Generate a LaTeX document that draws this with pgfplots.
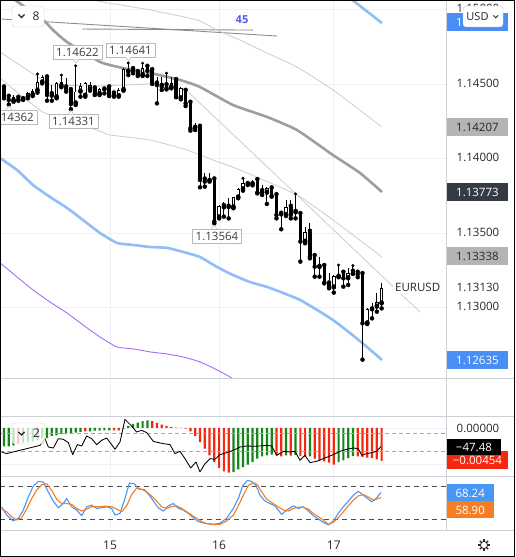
\documentclass[border=0pt]{standalone}
\usepackage{pgfplots}
\pgfplotsset{compat=1.18}
\usepackage{pgfplotstable}
\usepackage{fontspec}
\setmainfont{Open Sans}
\definecolor{gridc}{RGB}{238,240,243}
\definecolor{sepc}{RGB}{205,208,215}
\definecolor{maC}{RGB}{158,158,158}
\definecolor{bandC}{RGB}{144,190,248}
\definecolor{thinC}{RGB}{205,205,208}
\definecolor{purpC}{RGB}{168,108,250}
\definecolor{trendC}{RGB}{140,140,148}
\definecolor{boxBlue}{RGB}{72,142,245}
\definecolor{boxGray}{RGB}{180,180,180}
\definecolor{boxDark}{RGB}{54,58,69}
\definecolor{macdG}{RGB}{20,135,25}
\definecolor{macdR}{RGB}{245,40,15}
\definecolor{stochB}{RGB}{72,150,245}
\definecolor{stochO}{RGB}{245,125,35}
\definecolor{labC}{RGB}{40,40,40}
\definecolor{blueFF}{RGB}{80,90,235}

\pgfplotstableread{
i o h l c
0 1.14478 1.14493 1.14404 1.14411
1 1.14415 1.14419 1.14362 1.14393
2 1.14388 1.14424 1.14381 1.14415
3 1.14408 1.14415 1.14388 1.14397
4 1.14399 1.14419 1.14393 1.14415
5 1.14411 1.14449 1.14404 1.14442
6 1.14426 1.14464 1.14419 1.14455
7 1.14455 1.14567 1.14442 1.14516
8 1.14511 1.14558 1.14504 1.14549
9 1.14545 1.14554 1.14388 1.14426
10 1.14433 1.14493 1.14388 1.14422
11 1.14411 1.14516 1.14404 1.14504
12 1.14487 1.14560 1.14478 1.14516
13 1.14478 1.14538 1.14449 1.14460
14 1.14460 1.14471 1.14331 1.14366
15 1.14370 1.14622 1.14359 1.14449
16 1.14449 1.14504 1.14415 1.14487
17 1.14422 1.14516 1.14415 1.14504
18 1.14464 1.14516 1.14455 1.14493
19 1.14471 1.14478 1.14426 1.14433
20 1.14433 1.14471 1.14426 1.14464
21 1.14464 1.14482 1.14437 1.14475
22 1.14478 1.14482 1.14419 1.14426
23 1.14437 1.14449 1.14415 1.14419
24 1.14419 1.14471 1.14415 1.14460
25 1.14460 1.14605 1.14455 1.14601
26 1.14583 1.14641 1.14560 1.14598
27 1.14601 1.14616 1.14572 1.14576
28 1.14581 1.14589 1.14554 1.14560
29 1.14560 1.14639 1.14554 1.14605
30 1.14616 1.14628 1.14554 1.14589
31 1.14594 1.14605 1.14500 1.14504
32 1.14504 1.14549 1.14370 1.14493
33 1.14489 1.14549 1.14460 1.14482
34 1.14493 1.14572 1.14464 1.14471
35 1.14478 1.14549 1.14471 1.14509
36 1.14527 1.14538 1.14411 1.14415
37 1.14404 1.14482 1.14397 1.14471
38 1.14455 1.14464 1.14352 1.14370
39 1.14375 1.14381 1.14187 1.14202
40 1.14207 1.14241 1.14191 1.14218
41 1.14214 1.14218 1.13807 1.13856
42 1.13860 1.13900 1.13811 1.13845
43 1.13851 1.13905 1.13845 1.13860
44 1.13860 1.13867 1.13564 1.13576
45 1.13605 1.13688 1.13598 1.13681
46 1.13681 1.13710 1.13610 1.13672
47 1.13677 1.13733 1.13598 1.13674
48 1.13672 1.13744 1.13666 1.13739
49 1.13739 1.13800 1.13733 1.13793
50 1.13793 1.13867 1.13784 1.13838
51 1.13829 1.13845 1.13822 1.13838
52 1.13829 1.13856 1.13820 1.13845
53 1.13856 1.13860 1.13766 1.13771
54 1.13782 1.13822 1.13755 1.13773
55 1.13771 1.13807 1.13695 1.13800
56 1.13800 1.13804 1.13744 1.13748
57 1.13755 1.13760 1.13598 1.13621
58 1.13630 1.13640 1.13525 1.13625
59 1.13621 1.13722 1.13614 1.13677
60 1.13677 1.13722 1.13598 1.13621
61 1.13643 1.13762 1.13598 1.13639
62 1.13628 1.13632 1.13308 1.13442
63 1.13442 1.13543 1.13431 1.13509
64 1.13509 1.13569 1.13330 1.13341
65 1.13346 1.13364 1.13207 1.13274
66 1.13274 1.13341 1.13207 1.13272
67 1.13279 1.13285 1.13162 1.13167
68 1.13162 1.13229 1.13129 1.13140
69 1.13135 1.13218 1.13100 1.13211
70 1.13207 1.13285 1.13203 1.13225
71 1.13234 1.13241 1.13140 1.13196
72 1.13196 1.13263 1.13151 1.13234
73 1.13241 1.13281 1.13225 1.13229
74 1.13234 1.13247 1.13203 1.13223
75 1.13225 1.13234 1.12650 1.12894
76 1.12894 1.12994 1.12889 1.12988
77 1.12988 1.13028 1.12927 1.13006
78 1.13006 1.13095 1.12972 1.13039
79 1.13028 1.13162 1.12994 1.13130
}\candles

\pgfplotstableread{
i p
-0.84 1.15138
2.30 1.15064
8.16 1.14930
10.25 1.14862
13.18 1.14782
20.08 1.14648
24.90 1.14607
30.54 1.14574
36.82 1.14527
40.99 1.14480
47.91 1.14359
55.02 1.14279
61.30 1.14191
68.83 1.14023
74.48 1.13903
79.08 1.13775
}\maline

\pgfplotstableread{
i p
-0.84 1.14003
2.72 1.13923
6.07 1.13822
9.62 1.13742
13.18 1.13668
16.53 1.13587
20.08 1.13500
23.64 1.13433
27.00 1.13420
30.54 1.13406
34.10 1.13400
37.45 1.13373
41.00 1.13339
44.56 1.13272
47.91 1.13218
51.46 1.13171
55.02 1.13138
58.37 1.13098
61.92 1.13051
65.48 1.12984
68.83 1.12916
72.38 1.12829
75.94 1.12735
79.08 1.12648
}\lowband

\pgfplotstableread{
i p
-0.84 1.13300
2.72 1.13205
6.07 1.13118
9.62 1.13037
13.18 1.12963
16.53 1.12883
20.08 1.12802
23.64 1.12735
27.00 1.12722
30.54 1.12702
34.10 1.12688
37.45 1.12668
41.00 1.12635
44.56 1.12581
47.27 1.12534
51.46 1.12447
}\purple

\pgfplotstableread{
i v
-0.49 -107
0.56 -125
1.95 -107
3.35 -89
4.74 -71
6.14 -53
7.53 -35
8.58 38
9.27 -53
10.32 -64
11.37 38
12.41 31
13.46 -5
14.37 -136
15.35 -27
16.25 -42
17.29 67
18.34 38
19.39 -27
20.43 20
21.48 45
22.52 -27
23.22 -78
24.27 2
25.31 249
26.71 176
27.75 111
28.80 129
29.85 104
31.24 9
32.29 -5
33.33 -16
34.73 -27
35.77 -125
36.82 -100
37.87 -180
39.05 -282
40.17 -216
41.00 -325
42.05 -235
43.10 -180
44.14 -187
45.19 -136
46.58 -115
47.98 -89
49.37 -53
50.77 -42
52.16 -45
53.56 -42
54.95 -35
56.00 -42
57.04 -144
58.44 -100
59.83 -107
60.88 -100
61.92 -198
62.97 -144
64.02 -224
65.41 -209
67.15 -173
68.90 -136
70.29 -100
71.69 -78
73.08 -64
74.13 -71
74.83 -144
75.87 -125
76.92 -115
77.96 -100
78.87 -47.48
}\cci

\pgfplotstableread{
i s
-0.49 42.2
0.56 27.2
1.95 16.4
3.00 21.2
4.04 36.2
5.09 60.2
6.14 80.0
7.18 88.4
8.23 87.2
9.27 69.2
10.32 52.4
11.37 40.4
12.41 48.2
13.11 57.2
14.16 42.2
15.20 36.2
16.25 26.0
17.29 42.2
18.34 45.2
19.39 39.2
20.43 40.4
21.48 42.2
22.52 39.2
23.22 27.2
24.27 30.2
25.31 57.2
26.22 85.4
27.20 84.2
28.31 74.0
29.29 74.0
30.40 63.2
31.38 51.2
32.29 40.4
33.33 34.4
34.38 44.0
35.43 48.2
36.47 39.2
37.52 36.2
38.56 30.2
39.61 22.4
40.66 15.2
42.05 12.2
43.79 10.4
45.19 12.2
46.58 21.2
47.98 39.2
49.02 57.2
49.93 80.0
50.91 90.2
51.81 88.4
52.72 81.2
53.56 63.2
54.60 52.4
55.65 48.2
56.69 44.0
58.09 28.4
59.14 36.2
60.53 44.0
61.58 39.2
62.62 42.2
63.67 34.4
64.71 26.0
65.76 20.0
66.81 14.0
67.85 9.2
68.90 16.4
69.94 30.2
70.99 42.2
72.04 52.4
73.08 63.2
74.13 70.4
75.17 63.2
75.87 58.4
76.92 51.2
77.82 57.2
78.87 68.24
}\stochk

\pgfplotstableread{
i s
-0.49 38.0
0.56 33.2
1.60 24.2
2.65 18.2
3.70 22.4
4.74 38.0
5.79 57.2
6.83 72.2
7.88 82.4
8.93 84.2
9.97 72.2
11.02 56.0
12.06 48.2
13.11 48.2
14.16 46.4
15.20 39.2
16.25 34.4
17.29 38.0
18.34 42.2
19.39 42.2
20.43 42.8
21.48 43.4
22.52 42.2
23.57 38.0
24.62 33.2
25.66 44.0
26.71 64.4
27.75 76.4
28.80 74.0
29.85 69.2
30.89 62.0
31.94 52.4
32.98 42.2
34.03 39.2
35.08 42.8
36.12 44.0
37.17 39.2
38.21 33.2
39.26 27.2
40.31 21.2
41.35 15.2
42.40 11.6
43.79 9.8
45.19 10.4
46.58 16.4
47.98 27.2
49.02 44.0
50.07 63.2
51.12 81.2
52.16 86.0
53.00 82.4
53.91 69.2
54.95 56.0
56.00 50.0
57.04 44.0
58.44 36.2
59.48 34.4
60.53 39.2
61.58 41.6
62.62 41.0
63.67 38.0
64.71 30.2
65.76 24.2
66.81 18.2
67.85 10.4
68.90 14.0
69.94 22.4
70.99 33.2
72.04 44.0
73.08 54.2
74.13 62.0
75.17 64.4
76.22 60.2
77.27 54.2
78.31 57.2
78.87 58.90
}\stochd

\tikzset{
  vbox/.style={anchor=west, inner sep=0pt, minimum height=18pt, minimum width=61.5pt},
  hl/.style={draw=gray!55, fill=white, text=labC!90, inner sep=0pt, minimum width=49pt, minimum height=14pt},
}
\pgfplotsset{panel/.style={scale only axis, width=446pt, anchor=south west,
  xmin=-0.837, xmax=92.47, axis line style={draw=none}, major tick length=0pt,
  xtick={22.2,45,69}, xticklabels={,,}, grid=major,
  scaled y ticks=false, scaled x ticks=false,
  major grid style={color=gridc, line width=0.8pt}}}

\begin{document}
\begin{tikzpicture}[x=1pt,y=1pt,font=\fontsize{11.5}{13}\selectfont]
\useasboundingbox (0pt,0pt) rectangle (515pt,557pt);
\fill[white] (0pt,0pt) rectangle (515pt,557pt);

% ---------------- main price panel ----------------
\begin{axis}[panel, at={(0pt,179pt)}, height=378pt,
  ymin=1.125268, ymax=1.150638,
  ytick={1.13,1.135,1.14,1.145,1.15}, yticklabels={,,,,}]
  % drawn trend lines
  \addplot[trendC, line width=0.9pt] coordinates {(-0.42,1.14936) (57.11,1.14822)};
  \addplot[trendC, line width=0.9pt] coordinates {(16.32,1.14869) (52.09,1.14862)};
  % thin gray envelope lines
  \addplot[thinC, line width=0.8pt, smooth, tension=0.3] coordinates {
    (15.90,1.15084) (20.71,1.15050) (30.54,1.14997) (40.38,1.14930) (44.56,1.14862)
    (49.37,1.14795) (55.02,1.14708) (61.30,1.14614) (68.83,1.14460) (79.08,1.14211)};
  \addplot[thinC, line width=0.8pt, smooth, tension=0.3] coordinates {
    (-0.84,1.14540) (8.16,1.14312) (19.46,1.14191) (22.18,1.14158) (30.54,1.14124)
    (38.28,1.14057) (43.72,1.13990) (49.37,1.13923) (61.30,1.13755) (68.83,1.13587) (79.08,1.13339)};
  \addplot[thinC, line width=0.8pt] coordinates {
    (-0.84,1.14715) (9.62,1.14493) (20.08,1.14487) (30.54,1.14500) (37.87,1.14466)
    (61.30,1.13755) (70.29,1.13480) (79.08,1.13211) (87.03,1.12970)};
  % purple line
  \addplot[purpC, line width=0.9pt, smooth, tension=0.3] table[x=i,y=p] {\purple};
  % bands
  \addplot[bandC, line width=2.6pt, smooth, tension=0.3, line join=round] table[x=i,y=p] {\lowband};
  \addplot[bandC, line width=2.6pt, smooth, tension=0.3] coordinates {(68.0,1.15185) (73.43,1.15050) (79.08,1.14909)};
  % moving average
  \addplot[maC, line width=2.6pt, smooth, tension=0.3, line join=round] table[x=i,y=p] {\maline};
  % candles: wicks
  \addplot[only marks, mark=none,
    error bars/.cd, y dir=plus, y explicit, error mark=none,
    error bar style={color=black, line width=0.9pt}]
    table[x=i, y=l, y error expr={\thisrow{h}-\thisrow{l}}] {\candles};
  % candles: bodies
  \addplot[only marks, mark=none,
    error bars/.cd, y dir=plus, y explicit, error mark=none,
    error bar style={color=black, line width=3.4pt}]
    table[x=i, y expr={min(\thisrow{o},\thisrow{c})}, y error expr={max(abs(\thisrow{c}-\thisrow{o}),0.00007)}] {\candles};
  % candles: hollow insides of rising candles
  \addplot[only marks, mark=none,
    error bars/.cd, y dir=plus, y explicit, error mark=none,
    error bar style={color=white, line width=1.6pt}]
    table[x=i, y expr={\thisrow{o}+0.00006}, y error expr={max(\thisrow{c}-\thisrow{o}-0.00012,0)}] {\candles};
  % high / low dots
  \addplot[only marks, mark=*, mark size=1.3pt, black] coordinates {
    (1,1.14362) (7,1.14567) (12,1.14560) (14,1.14331) (15,1.14622) (26,1.14641)
    (29,1.14639) (32,1.14370) (34,1.14572) (44,1.13564) (47,1.13598) (50,1.13867)
    (53,1.13860) (58,1.13525) (61,1.13762) (62,1.13308) (69,1.13100) (70,1.13285)
    (73,1.13281) (75,1.12650)};
\end{axis}

% ---------------- MACD histogram panel ----------------
\begin{axis}[panel, at={(0pt,81pt)}, height=60pt,
  ymin=-0.006605, ymax=0.001651, ytick={-0.005,0}, yticklabels={,}]
  \addplot[ybar, bar width=2.2pt, bar shift=0pt, fill=macdG, draw=none] coordinates {
    (0,-0.00252) (1,-0.00252) (2,-0.00239) (4,-0.00202) (5,-0.00193) (6,-0.00183)
    (7,-0.00170) (8,-0.00147) (9,-0.00138) (10,-0.00110) (11,-0.00101) (12,-0.00083)
    (13,-0.00083) (14,-0.00073) (15,-0.00064) (16,-0.00055) (18,-0.00046) (19,-0.00037)
    (20,-0.00037) (21,-0.00032) (22,-0.00032) (25,-0.00009) (26,0.00028) (27,0.00055)
    (28,0.00073) (29,0.00096) (30,0.00106) (48,-0.00606) (49,-0.00569) (50,-0.00537)
    (51,-0.00505) (52,-0.00468) (53,-0.00422) (54,-0.00390) (55,-0.00376) (56,-0.00367)
    (59,-0.00376) (61,-0.00370) (64,-0.00390) (70,-0.00468) (71,-0.00445) (72,-0.00413)
    (73,-0.00385)};
  \addplot[ybar, bar width=2.2pt, bar shift=0pt, fill=macdR, draw=none] coordinates {
    (3,-0.00216) (17,-0.00046) (23,-0.00032) (24,-0.00034) (31,0.00096) (32,0.00069)
    (33,0.00046) (34,0.00028) (35,0.00014) (36,0.00005) (37,-0.00003) (38,-0.00009)
    (39,-0.00046) (40,-0.00110) (41,-0.00193) (42,-0.00284) (43,-0.00376) (44,-0.00468)
    (45,-0.00550) (46,-0.00596) (47,-0.00615) (57,-0.00376) (58,-0.00390) (60,-0.00380)
    (62,-0.00385) (63,-0.00399) (65,-0.00422) (66,-0.00445) (67,-0.00459) (68,-0.00477)
    (69,-0.00505) (74,-0.00390) (75,-0.00399) (76,-0.00408) (77,-0.00413) (78,-0.00431)
    (79,-0.00454)};
\end{axis}
% CCI line overlay
\begin{axis}[panel, at={(0pt,81pt)}, height=60pt, hide axis, ymin=-369.5, ymax=285.5]
  \addplot[gray!70, line width=0.8pt, dash pattern=on 4pt off 3pt] coordinates {(-0.837,100) (92.47,100)};
  \addplot[gray!70, line width=0.8pt, dash pattern=on 4pt off 3pt] coordinates {(-0.837,-100) (92.47,-100)};
  \addplot[black, line width=0.85pt, line join=round] table[x=i,y=v] {\cci};
\end{axis}

% ---------------- Stochastic panel ----------------
\begin{axis}[panel, at={(0pt,27pt)}, height=54pt, ymin=0, ymax=98.2, ytick=\empty]
  \addplot[gray!60!black, line width=0.8pt, dash pattern=on 5pt off 4pt] coordinates {(-0.837,80) (92.47,80)};
  \addplot[gray!60!black, line width=0.8pt, dash pattern=on 5pt off 4pt] coordinates {(-0.837,20) (92.47,20)};
  \addplot[stochB, line width=1.1pt, line join=round] table[x=i,y=s] {\stochk};
  \addplot[stochO, line width=1.1pt, line join=round] table[x=i,y=s] {\stochd};
\end{axis}

% ---------------- separators and empty pane ----------------
\foreach \xx in {110.1,219.1,333.8} \draw[gridc, line width=0.8pt] (\xx,141) -- (\xx,179);
\draw[sepc, line width=0.8pt] (0,179) -- (515,179);
\draw[sepc, line width=0.8pt] (0,141) -- (515,141);
\draw[sepc, line width=0.8pt] (0,81) -- (515,81);
\draw[sepc, line width=0.8pt] (0,27) -- (515,27);
\draw[sepc, line width=0.8pt] (446.5,27) -- (446.5,557);

% ---------------- chart annotations ----------------
\node[text=blueFF, font=\fontsize{11}{12}\selectfont\bfseries] at (242,537) {45};
% high / low labels
\node[hl] at (77.5,504.5) {1.14622};
\filldraw[draw=gray!55, fill=white] (73,497.5) -- (76,494) -- (79,497.5);
\node[hl] at (130.5,507) {1.14641};
\filldraw[draw=gray!55, fill=white] (125.5,500) -- (128.5,496) -- (131.5,500);
\node[hl] at (73.5,435.5) {1.14331};
\filldraw[draw=gray!55, fill=white] (68,442.5) -- (71,446.5) -- (74,442.5);
\node[hl] at (12.5,440) {1.14362};
\filldraw[draw=gray!55, fill=white] (6,447) -- (9,451) -- (12,447);
\node[hl] at (217,321) {1.13564};
\filldraw[draw=gray!55, fill=white] (211,328) -- (214,332) -- (217,328);
% symbol label
\node[fill=white, inner sep=2pt, anchor=west, text=labC] at (393,269.5) {EURUSD};
% legend toggles
\draw[gray!35, fill=white, rounded corners=3pt] (12,530) rectangle (44,551);
\draw[labC, line width=1.1pt] (18.5,542.5) -- (21.5,539.5) -- (24.5,542.5);
\node[text=labC, font=\fontsize{12}{13}\selectfont] at (36,540.5) {8};
\draw[gray!35, fill=white, fill opacity=0.75, rounded corners=3pt] (12,113) rectangle (45,134);
\draw[labC, line width=1.1pt] (18.5,125) -- (21.5,122) -- (24.5,125);
\node[text=labC, font=\fontsize{12}{13}\selectfont] at (36.5,123.5) {2};

% ---------------- price scale ----------------
\node[text=labC] at (478,548.5) {1.15000};
\node[vbox, fill=boxBlue, text=white] at (446.5,534.5) {1.14909};
\node[text=labC] at (478,473.5) {1.14500};
\node[vbox, fill=boxGray, text=labC] at (446.5,429.5) {1.14207};
\node[text=labC] at (478,399.5) {1.14000};
\node[vbox, fill=boxDark, text=white] at (446.5,365) {1.13773};
\node[text=labC] at (478,324.5) {1.13500};
\node[vbox, fill=boxGray, text=labC] at (446.5,300.5) {1.13338};
\node[text=labC] at (478,269.5) {1.13130};
\node[text=labC] at (478,251) {1.13000};
\node[vbox, fill=boxBlue, text=white] at (446.5,197) {1.12635};
% USD button
\draw[gray!45, fill=white, rounded corners=3pt] (463,530) rectangle (503,551);
\node[text=labC, font=\fontsize{11}{12}\selectfont] at (477.5,540.5) {USD};
\draw[labC, line width=0.9pt] (493.5,541.5) -- (495.8,539.2) -- (498.1,541.5);
% lower scales
\node[text=labC] at (478,128.7) {0.00000};
\node[vbox, fill=macdR, text=white, minimum height=18pt] at (446.5,97) {−0.00454};
\node[vbox, fill=black, text=white, minimum width=54.5pt, minimum height=16.5pt] at (446.5,110) {−47.48};
\node[vbox, fill=stochB, text=white, minimum width=47pt, minimum height=17pt] at (446.5,64) {68.24};
\node[vbox, fill=stochO, text=white, minimum width=47pt, minimum height=17pt] at (446.5,47) {58.90};

% ---------------- time axis ----------------
\node[text=labC, font=\fontsize{12}{13}\selectfont] at (110.1,12) {15};
\node[text=labC, font=\fontsize{12}{13}\selectfont] at (219.1,12) {16};
\node[text=labC, font=\fontsize{12}{13}\selectfont] at (333.8,12) {17};
\draw[labC, line width=0.9pt] (484,12) circle (3.6);
\foreach \a in {0,45,...,315} \draw[labC, line width=1.2pt] (484,12) ++(\a:3.6) -- ++(\a:2.4);

% frame
\draw[black, line width=1pt] (0.5,0.5) rectangle (514.5,556.5);
\end{tikzpicture}
\end{document}
